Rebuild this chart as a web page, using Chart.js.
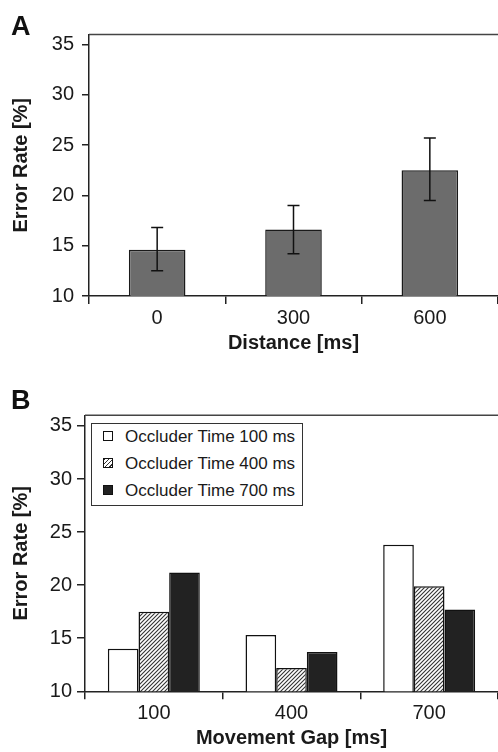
<!DOCTYPE html>
<html>
<head>
<meta charset="utf-8">
<title>Error Rate</title>
<script src="https://cdn.jsdelivr.net/npm/chart.js@4.4.1/dist/chart.umd.min.js"></script>
<style>
  body { margin: 0; background: #fff; font-family: "Liberation Sans", Arial, sans-serif; }
  .panel { position: absolute; left: 0; width: 498px; height: 376px; }
  .letter { position: absolute; left: 11px; font-weight: bold; font-size: 27px; line-height: 1; color: #111; }
  #legendB {
    position: absolute; left: 91px; top: 423px; width: 212px; height: 83px;
    box-sizing: border-box; border: 1.5px solid #333; background: #fff;
    padding: 0 0 0 11px; font-size: 17px; color: #1a1a1a;
  }
  #legendB .row { height: 21px; line-height: 21px; margin-top: 6px; display: flex; align-items: center; white-space: nowrap; }
  #legendB .row:first-child { margin-top: 0; }
  #legendB .sw { width: 8px; height: 8px; border: 1px solid #111; margin-right: 12px; flex: none; }
</style>
</head>
<body>
<div class="panel" style="top:0"><canvas id="chartA" width="498" height="376"></canvas></div>
<div class="panel" style="top:376px"><canvas id="chartB" width="498" height="376"></canvas></div>
<div class="letter" style="top:13px">A</div>
<div class="letter" style="top:387px">B</div>
<div id="legendB"></div>

<script>
// panel A
const distances = ["0", "300", "600"];
const errorRateA = [14.6, 16.6, 22.5];
const errLowA = [12.5, 14.2, 19.5];
const errHighA = [16.8, 19.0, 25.7];

// panel B
const gaps = ["100", "400", "700"];
const seriesLabels = ["Occluder Time 100 ms", "Occluder Time 400 ms", "Occluder Time 700 ms"];
const occ100 = [14.0, 15.3, 23.8];
const occ400 = [17.5, 12.2, 19.9];
const occ700 = [21.2, 13.7, 17.7];

const yTicks = [10, 15, 20, 25, 30, 35];
const yMin = 10;
const yMax = 36;

Chart.defaults.font.family = '"Liberation Sans", Arial, sans-serif';
Chart.defaults.color = "#1a1a1a";

function makeHatch() {
    const c = document.createElement("canvas");
    c.width = 4; c.height = 4;
    const g = c.getContext("2d");
    g.fillStyle = "#fff";
    g.fillRect(0, 0, 4, 4);
    g.strokeStyle = "#333";
    g.lineWidth = 1.1;
    g.beginPath();
    g.moveTo(0, 4); g.lineTo(4, 0);
    g.moveTo(-1, 1); g.lineTo(1, -1);
    g.moveTo(3, 5); g.lineTo(5, 3);
    g.stroke();
    return g.createPattern(c, "repeat");
}

// line along the top of the plot area
const frameTop = {
    id: "frameTop",
    afterDraw(chart) {
        const { ctx, chartArea: a } = chart;
        ctx.save();
        ctx.strokeStyle = "#444";
        ctx.lineWidth = 1.5;
        ctx.beginPath();
        ctx.moveTo(a.left, a.top);
        ctx.lineTo(a.right, a.top);
        ctx.stroke();
        ctx.restore();
    }
};

const errorBars = {
    id: "errorBars",
    afterDatasetsDraw(chart, args, opts) {
        const { ctx } = chart;
        const y = chart.scales.y;
        ctx.save();
        ctx.strokeStyle = "#111";
        ctx.lineWidth = 1.5;
        chart.getDatasetMeta(0).data.forEach((bar, i) => {
            const top = y.getPixelForValue(opts.high[i]);
            const bot = y.getPixelForValue(opts.low[i]);
            ctx.beginPath();
            ctx.moveTo(bar.x, top); ctx.lineTo(bar.x, bot);
            ctx.moveTo(bar.x - 6, top); ctx.lineTo(bar.x + 6, top);
            ctx.moveTo(bar.x - 6, bot); ctx.lineTo(bar.x + 6, bot);
            ctx.stroke();
        });
        ctx.restore();
    }
};

function scalesFor(xTitle, axisLeft, yTickLen, yTickPad) {
    return {
        x: {
            afterFit: s => { s.height = 60; },
            grid: { drawOnChartArea: false, tickLength: 8, color: "#222", lineWidth: 1.5 },
            border: { color: "#222", width: 1.5 },
            ticks: { font: { size: 20 }, padding: 2, color: "#1a1a1a" },
            title: { display: true, text: xTitle, font: { size: 20, weight: "bold" }, padding: { top: 0, bottom: 1 }, color: "#1a1a1a" }
        },
        y: {
            min: yMin,
            max: yMax,
            afterFit: s => { s.width = axisLeft; },
            afterBuildTicks: s => { s.ticks = yTicks.map(v => ({ value: v })); },
            grid: { drawOnChartArea: false, tickLength: yTickLen, color: "#222", lineWidth: 1.5 },
            border: { color: "#222", width: 1.5 },
            ticks: { font: { size: 20 }, padding: yTickPad, color: "#1a1a1a" },
            title: { display: true, text: "Error Rate [%]", font: { size: 20, weight: "bold" }, padding: { top: 9, bottom: 0 }, color: "#1a1a1a" }
        }
    };
}

new Chart(document.getElementById("chartA"), {
    type: "bar",
    data: {
        labels: distances,
        datasets: [{
            data: errorRateA,
            backgroundColor: "#6c6c6c",
            borderColor: "#1a1a1a",
            borderWidth: 1.5,
            borderSkipped: false,
            categoryPercentage: 1,
            barPercentage: 0.415
        }]
    },
    options: {
        responsive: false,
        animation: false,
        layout: { padding: { top: 34.5, right: 0, bottom: 20, left: 0 } },
        plugins: {
            legend: { display: false },
            tooltip: { enabled: false },
            errorBars: { low: errLowA, high: errHighA }
        },
        scales: scalesFor("Distance [ms]", 89, 7, 8)
    },
    plugins: [frameTop, errorBars]
});

const fillsB = ["#ffffff", makeHatch(), "#222222"];
const seriesB = [occ100, occ400, occ700];

new Chart(document.getElementById("chartB"), {
    type: "bar",
    data: {
        labels: gaps,
        datasets: seriesB.map((vals, i) => ({
            label: seriesLabels[i],
            data: vals,
            backgroundColor: fillsB[i],
            borderColor: "#111",
            borderWidth: 1.5,
            borderSkipped: false,
            categoryPercentage: 0.668,
            barPercentage: 1
        }))
    },
    options: {
        responsive: false,
        animation: false,
        layout: { padding: { top: 39.3, right: 0, bottom: 0.7, left: 0 } },
        plugins: {
            legend: { display: false },
            tooltip: { enabled: false }
        },
        scales: scalesFor("Movement Gap [ms]", 85, 8, 5)
    },
    plugins: [frameTop]
});

// legend drawn inside the plot, as in the figure
const swatchCss = [
    "background:#fff",
    "background:repeating-linear-gradient(135deg,#333 0 1px,#fff 1px 3px)",
    "background:#222"
];
const legendB = document.getElementById("legendB");
legendB.style.paddingTop = "1.5px";
seriesLabels.forEach((lab, i) => {
    const row = document.createElement("div");
    row.className = "row";
    row.innerHTML = '<span class="sw" style="' + swatchCss[i] + '"></span><span></span>';
    row.lastChild.textContent = lab;
    legendB.appendChild(row);
});
</script>
</body>
</html>
